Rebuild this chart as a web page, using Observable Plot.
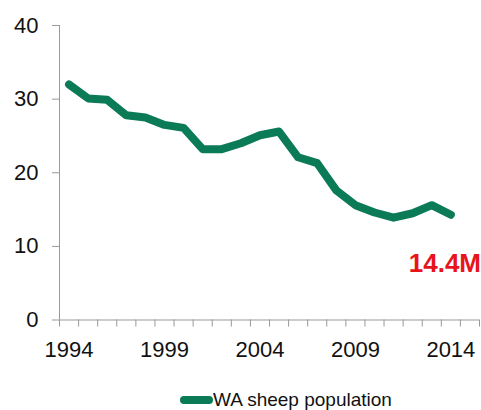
<!DOCTYPE html>
<html>
<head>
<meta charset="utf-8">
<script src="https://cdn.jsdelivr.net/npm/d3@7"></script>
<script src="https://cdn.jsdelivr.net/npm/@observablehq/plot@0.6"></script>
<style>
body { margin: 0; background: #fff; font-family: "Liberation Sans", Arial, sans-serif; }
#legend { display: flex; align-items: center; margin-left: 180px; margin-top: 10px; height: 30px; font-size: 19px; color: #111; }
#legend .sw { width: 33px; height: 8px; border-radius: 4px; background: #0b7a57; }
</style>
</head>
<body>
<div id="chart"></div>
<div id="legend"><span class="sw"></span><span>WA sheep population</span></div>
<script>
const years = [1994,1995,1996,1997,1998,1999,2000,2001,2002,2003,2004,2005,2006,2007,2008,2009,2010,2011,2012,2013,2014];
const population = [32.0,30.1,29.9,27.8,27.5,26.5,26.1,23.2,23.2,24.0,25.1,25.6,22.1,21.3,17.6,15.6,14.6,13.9,14.5,15.6,14.3];
const yTicks = [0,10,20,30,40];
const xLabelTicks = [1994,1999,2004,2009,2014];
const annotation = [{year: 2014, value: 14.4, text: "14.4M"}];
const seriesName = "WA sheep population";

const data = years.map((y, i) => ({year: y, value: population[i]}));
const xBoundaries = d3.range(years[0] - 0.5, years[years.length - 1] + 2, 1);

const plot = Plot.plot({
  width: 481,
  height: 375,
  marginTop: 25,
  marginBottom: 55.5,
  marginLeft: 59,
  marginRight: 2,
  style: {fontFamily: "Liberation Sans, Arial, sans-serif", fontSize: "22px", color: "#111", background: "#fff"},
  x: {domain: [years[0] - 0.5, years[years.length - 1] + 1.5]},
  y: {domain: [0, 40]},
  marks: [
    Plot.axisY({ticks: yTicks, tickSize: 7, tickPadding: 14, stroke: "#999", strokeOpacity: 1, label: null, fontSize: 22}),
    Plot.axisX({ticks: xBoundaries, tickSize: 7, tickFormat: () => "", stroke: "#999", strokeOpacity: 1, label: null}),
    Plot.axisX({ticks: xLabelTicks, tickSize: 0, tickPadding: 21, tickFormat: d => String(d), label: null, fontSize: 22}),
    Plot.ruleX([years[0] - 0.5], {stroke: "#999"}),
    Plot.ruleY([0], {stroke: "#999", x1: years[0] - 0.5, x2: years[years.length - 1] + 1.5}),
    Plot.lineY(data, {x: "year", y: "value", stroke: "#0b7a57", strokeWidth: 8, strokeLinejoin: "round", strokeLinecap: "round", title: () => seriesName}),
    Plot.text(annotation, {x: "year", y: "value", text: "text", dx: -6, dy: 50, fill: "#e8141b", fontWeight: "bold", fontSize: 26})
  ]
});
document.getElementById("chart").append(plot);
</script>
</body>
</html>
